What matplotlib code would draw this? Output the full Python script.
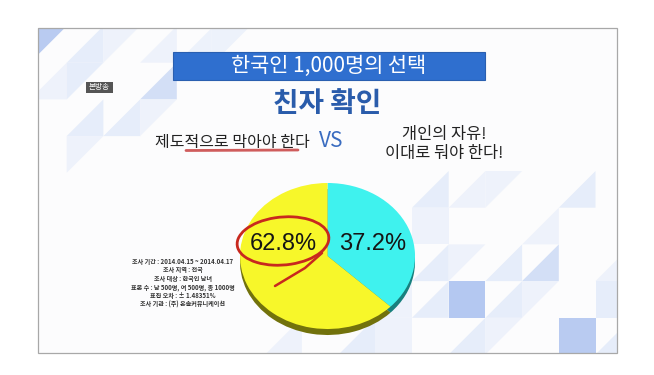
import matplotlib
matplotlib.use("Agg")
import matplotlib.pyplot as plt
from matplotlib.patches import Rectangle, Polygon, Arc

plt.rcParams['font.family'] = ['Noto Sans CJK KR', 'DejaVu Sans']

# data
labels = ['개인의 자유!\n이대로 둬야 한다!', '제도적으로 막아야 한다']
values = [37.2, 62.8]
colors = ['#3ff2ee', '#f7f72a']
rim_colors = ['#17807e', '#72720c']

title = '한국인 1,000명의 선택'
subtitle = '친자 확인'
note = ('조사 기간 : 2014.04.15 ~ 2014.04.17\n조사 지역 : 전국\n조사 대상 : 한국인 남녀\n'
        '표본 수 : 남 500명, 여 500명, 총 1000명\n표집 오차 : ± 1.48351%\n'
        '조사 기관 : (주) 온솔커뮤니케이션')

W, H = 654, 375
fig = plt.figure(figsize=(W / 100, H / 100), dpi=100)
fig.patch.set_facecolor('white')

# background in pixel coordinates
bg = fig.add_axes([0, 0, 1, 1])
bg.set_xlim(0, W)
bg.set_ylim(H, 0)
bg.axis('off')
frame = Rectangle((38, 28), 579, 325, facecolor='#fcfcfd', edgecolor='none')
bg.add_patch(frame)

light, mid, dark = '#e6edfa', '#d3dff6', '#b9cbf1'

def cell(x0, y0, s, kind, c):
    if kind == 'full':
        pts = [(x0, y0), (x0 + s, y0), (x0 + s, y0 + s), (x0, y0 + s)]
    elif kind == 'lo':
        pts = [(x0, y0 + s), (x0 + s, y0), (x0 + s, y0 + s)]
    else:
        pts = [(x0, y0), (x0 + s, y0), (x0, y0 + s)]
    p = Polygon(pts, closed=True, facecolor=c, edgecolor='none')
    bg.add_patch(p)
    p.set_clip_path(frame)

s = 36.7
# top-left decoration
left_cells = [(0, 0, 'up', dark), (1, 0, 'lo', light), (2, 0, 'up', '#eef2fb'), (3, 0, 'lo', '#eef2fb'),
              (0, 1, 'lo', '#eef2fb'), (1, 1, 'up', light), (3, 1, 'lo', mid),
              (1, 2, 'lo', light), (2, 2, 'lo', light), (3, 2, 'up', '#eef2fb'),
              (1, 3, 'up', '#eef2fb')]
for c, r, k, col in left_cells:
    cell(30 + c * s, 26 + r * s, s, k, col)
for c, r, k, col in [(0, 0, 'lo', '#edf2fb'), (1, 0, 'up', '#edf2fb')]:
    cell(175 + c * s, 28 + r * s, s, k, col)

# bottom-right decoration
right_cells = [(0, 0, 'lo', light), (1, 0, 'lo', '#eef2fb'), (2, 0, 'up', '#eef2fb'), (4, 0, 'lo', light),
               (0, 1, 'full', '#eef2fb'), (3, 1, 'lo', '#eef2fb'),
               (0, 2, 'lo', light), (1, 2, 'up', '#eef2fb'), (2, 2, 'lo', light), (3, 2, 'lo', mid),
               (5, 2, 'lo', '#eef2fb'),
               (-1, 3, 'lo', '#eef2fb'), (0, 3, 'lo', light), (1, 3, 'full', '#b4c8f1'), (2, 3, 'lo', light),
               (3, 3, 'up', '#eef2fb'), (5, 3, 'full', light),
               (1, 4, 'lo', light), (4, 4, 'full', dark), (5, 4, 'lo', light), (2, 4, 'up', '#eef2fb'),
               (-2, 4, 'lo', light), (-1, 4, 'full', '#eef2fb'), (-4, 4, 'lo', '#eef2fb')]
for c, r, k, col in right_cells:
    cell(412 + c * s, 171 + r * s, s, k, col)

bg.add_patch(Rectangle((38, 28), 579, 325, facecolor='none', edgecolor='#a8a8a8', lw=0.9))

# title bar
bg.add_patch(Rectangle((173, 52), 312, 28, facecolor='#2f6fcf', edgecolor='#2a5fb0', lw=0.8))
bg.text(329, 66, title, color='white', fontsize=15, fontweight='medium', ha='center', va='center')
bg.text(327, 104, subtitle, color='#2a5cab', fontsize=20, fontweight='bold', ha='center', va='center')

# logo box
bg.add_patch(Rectangle((86, 82), 27, 11, facecolor='#555555', edgecolor='none'))
bg.text(99.5, 87.5, '본방송', color='white', fontsize=5.5, ha='center', va='center')

# sides
bg.plot([186, 298], [150.5, 150], color='#c43434', lw=2.0, alpha=0.8, solid_capstyle='round')
bg.text(232, 142, labels[1], color='#222222', fontsize=11.5, fontweight='medium', ha='center', va='center')
bg.text(331, 141, 'VS', color='#3a6cc0', fontsize=15, fontweight='medium', ha='center', va='center')
bg.text(444, 144, labels[0], color='#222222', fontsize=11.8, fontweight='medium', ha='center', va='center',
        linespacing=1.2)

# survey note
bg.text(183, 283, note, color='#333333', fontsize=4.4, fontweight='bold', ha='center', va='center',
        linespacing=1.25)

# pie rim (3D thickness)
rim = fig.add_axes([240 / W, (H - 335) / H, 175 / W, 146 / H])
rim.pie(values, colors=rim_colors, startangle=90, counterclock=False, radius=1)
rim.set_xlim(-1, 1)
rim.set_ylim(-1, 1)
rim.set_aspect('auto')
rim.axis('off')

# pie top face
pie = fig.add_axes([240 / W, (H - 329) / H, 175 / W, 146 / H])
pie.pie(values, colors=colors, startangle=90, counterclock=False, radius=1)
pie.set_xlim(-1, 1)
pie.set_ylim(-1, 1)
pie.set_aspect('auto')
pie.axis('off')
for v, x in zip(values, [0.52, -0.5]):
    pie.text(x, 0.17, f'{v}%', fontsize=17, ha='center', va='center',
             family='Liberation Sans', color='#151515')

# red circle around the majority share
ov = fig.add_axes([0, 0, 1, 1])
ov.set_xlim(0, W)
ov.set_ylim(H, 0)
ov.axis('off')
ov.add_patch(Arc((283, 241), 92, 48, angle=-5, theta1=-30, theta2=330, color='#c8281e', lw=2))
ov.plot([322, 305, 285, 275], [253, 268, 280, 286], color='#c8281e', lw=1.8, solid_capstyle='round')

fig.savefig('out.png', dpi=100, facecolor='white')
